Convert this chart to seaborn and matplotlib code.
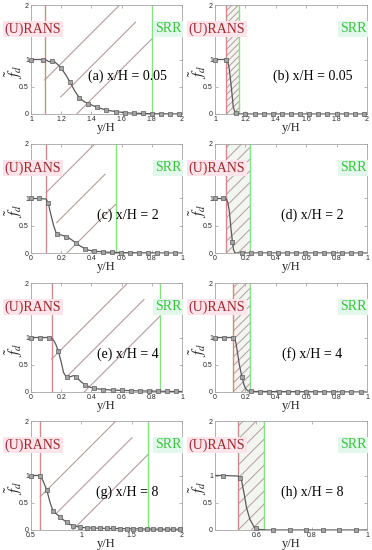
import numpy as np
import pandas as pd
import seaborn as sns
import matplotlib
matplotlib.use("Agg")
import matplotlib.pyplot as plt
from matplotlib.patches import Rectangle

sns.set_theme(style="white")
plt.rcParams["font.family"] = ["Liberation Serif", "DejaVu Serif"]
plt.rcParams["mathtext.fontset"] = "stix"

# ---------------- data ----------------
panel_labels = ["(a) x/H = 0.05", "(b) x/H = 0.05", "(c) x/H = 2", "(d) x/H = 2",
                "(e) x/H = 4", "(f) x/H = 4", "(g) x/H = 8", "(h) x/H = 8"]
x_limits = [(1, 2), (1, 2), (0, 1), (0, 1), (0, 1), (0, 1), (0.5, 2), (0.45, 1)]
rans_pos = [1.09, 1.075, 0.1, 0.074, 0.136, 0.118, 0.59, 0.534]
srr_pos = [1.8, 1.16, 0.56, 0.228, 0.857, 0.232, 1.666, 0.628]

ticks_12 = [1, 1.2, 1.4, 1.6, 1.8, 2]
labels_12 = ["1", "1.2", "1.4", "1.6", "1.8", "2"]
ticks_01 = [0, 0.2, 0.4, 0.6, 0.8, 1]
labels_01 = ["0", "0.2", "0.4", "0.6", "0.8", "1"]
ticks_g = [0.5, 1, 1.5, 2]
labels_g = ["0.5", "1", "1.5", "2"]
ticks_h = [0.6, 0.8, 1]
labels_h = ["0.6", "0.8", "1"]
y_ticks = [0, 0.5, 1, 1.5, 2]
y_tick_labels = ["0", "0.5", "1", "1.5", "2"]

a_cx = [1.0, 1.08, 1.1, 1.12, 1.14, 1.16, 1.18, 1.2, 1.23, 1.26, 1.29, 1.32, 1.35, 1.38, 1.44, 1.5, 1.56, 1.62, 1.68, 1.74, 1.8, 1.86, 1.92, 1.98, 2.0]
a_cy = [1.0, 1.0, 0.99, 0.96, 0.97, 0.95, 0.9, 0.84, 0.72, 0.58, 0.42, 0.3, 0.23, 0.19, 0.12, 0.07, 0.045, 0.025, 0.015, 0.01, 0.005, 0.003, 0.002, 0.001, 0.0]
a_mx = [1.0, 1.08, 1.14, 1.2, 1.26, 1.32, 1.38, 1.44, 1.5, 1.56, 1.62, 1.68, 1.74, 1.8, 1.86, 1.92, 1.98]
a_my = [1.0, 1.0, 0.97, 0.84, 0.58, 0.3, 0.19, 0.12, 0.07, 0.045, 0.025, 0.015, 0.01, 0.005, 0.003, 0.002, 0.001]

b_cx = [1.0, 1.075, 1.085, 1.092, 1.1, 1.107, 1.115, 1.12, 1.13, 1.14, 1.16, 1.2, 2.0]
b_cy = [1.0, 1.0, 0.95, 0.86, 0.68, 0.5, 0.28, 0.13, 0.05, 0.01, 0.0, 0.0, 0.0]
b_mx = [1.0, 1.075, 1.14, 1.2, 1.26, 1.32, 1.38, 1.44, 1.5, 1.56, 1.62, 1.68, 1.74, 1.8, 1.86, 1.92, 1.98]
b_my = [1.0, 1.0, 0.01, 0, 0, 0, 0, 0, 0, 0, 0, 0, 0, 0, 0, 0, 0]

c_cx = [0, 0.055, 0.1, 0.115, 0.13, 0.15, 0.165, 0.175, 0.2, 0.235, 0.265, 0.295, 0.325, 0.355, 0.385, 0.415, 0.475, 0.535, 0.595, 0.655, 0.715, 0.775, 0.835, 0.895, 0.955, 1.0]
c_cy = [1.0, 1.0, 0.99, 0.91, 0.72, 0.5, 0.38, 0.35, 0.33, 0.3, 0.25, 0.19, 0.13, 0.08, 0.05, 0.035, 0.02, 0.012, 0.008, 0.005, 0.003, 0.002, 0.001, 0, 0, 0]
c_mx = [0, 0.055, 0.115, 0.175, 0.235, 0.295, 0.355, 0.415, 0.475, 0.535, 0.595, 0.655, 0.715, 0.775, 0.835, 0.895, 0.955]
c_my = [1.0, 1.0, 0.91, 0.35, 0.3, 0.19, 0.08, 0.035, 0.02, 0.012, 0.008, 0.005, 0.003, 0.002, 0.001, 0, 0]

d_cx = [0, 0.055, 0.075, 0.085, 0.095, 0.105, 0.115, 0.122, 0.13, 0.14, 0.175, 1.0]
d_cy = [1.0, 1.0, 0.99, 0.92, 0.75, 0.45, 0.2, 0.06, 0.01, 0.0, 0.0, 0.0]
d_mx = [0, 0.055, 0.115, 0.175, 0.235, 0.295, 0.355, 0.415, 0.475, 0.535, 0.595, 0.655, 0.715, 0.775, 0.835, 0.895, 0.955]
d_my = [1.0, 1.0, 0.2, 0, 0, 0, 0, 0, 0, 0, 0, 0, 0, 0, 0, 0, 0]

e_cx = [0, 0.06, 0.12, 0.135, 0.15, 0.165, 0.18, 0.2, 0.215, 0.235, 0.26, 0.28, 0.3, 0.33, 0.36, 0.39, 0.42, 0.48, 0.54, 0.6, 0.66, 0.72, 0.78, 0.84, 0.9, 0.96, 1.0]
e_cy = [1, 1, 1, 0.99, 0.95, 0.87, 0.76, 0.55, 0.36, 0.27, 0.28, 0.3, 0.28, 0.19, 0.13, 0.09, 0.065, 0.045, 0.035, 0.03, 0.025, 0.02, 0.018, 0.015, 0.012, 0.01, 0.01]
e_mx = [0, 0.06, 0.12, 0.18, 0.24, 0.3, 0.36, 0.42, 0.48, 0.54, 0.6, 0.66, 0.72, 0.78, 0.84, 0.9, 0.96]
e_my = [1, 1, 1, 0.76, 0.27, 0.28, 0.13, 0.065, 0.045, 0.035, 0.03, 0.025, 0.02, 0.018, 0.015, 0.012, 0.01]

f_cx = [0, 0.06, 0.118, 0.128, 0.138, 0.148, 0.16, 0.17, 0.178, 0.19, 0.2, 0.215, 0.235, 1.0]
f_cy = [1, 1, 1, 0.98, 0.9, 0.72, 0.5, 0.37, 0.27, 0.14, 0.07, 0.025, 0.01, 0.0]
f_mx = [0, 0.06, 0.118, 0.178, 0.238, 0.298, 0.358, 0.418, 0.478, 0.538, 0.598, 0.658, 0.718, 0.778, 0.838, 0.898, 0.958]
f_my = [1, 1, 1, 0.27, 0.01, 0, 0, 0, 0, 0, 0, 0, 0, 0, 0, 0, 0]

g_cx = [0.5, 0.59, 0.62, 0.656, 0.69, 0.72, 0.755, 0.79, 0.82, 0.854, 0.89, 0.92, 0.987, 1.053, 1.12, 1.25, 1.4, 1.6, 1.8, 2.0]
g_cy = [1.0, 1.0, 0.9, 0.74, 0.5, 0.34, 0.29, 0.24, 0.19, 0.14, 0.1, 0.08, 0.05, 0.04, 0.035, 0.03, 0.025, 0.02, 0.015, 0.015]
g_mx = [0.5, 0.59, 0.656, 0.722, 0.788, 0.854, 0.92, 0.987, 1.053, 1.119, 1.186, 1.252, 1.318, 1.385, 1.451, 1.517, 1.584, 1.65, 1.716, 1.783, 1.849, 1.915, 1.982]
g_my = [1.0, 1.0, 0.74, 0.34, 0.24, 0.14, 0.08, 0.05, 0.04, 0.035, 0.032, 0.03, 0.028, 0.026, 0.024, 0.022, 0.02, 0.02, 0.018, 0.017, 0.016, 0.015, 0.015]

h_cx = [0.45, 0.48, 0.535, 0.545, 0.556, 0.564, 0.576, 0.592, 0.61, 0.64, 1.0]
h_cy = [1.0, 1.0, 0.99, 0.93, 0.65, 0.41, 0.2, 0.05, 0.01, 0.0, 0.0]
h_mx = [0.48, 0.54, 0.6, 0.66, 0.72, 0.78, 0.84, 0.9, 0.96]
h_my = [1.0, 0.96, 0.03, 0, 0, 0, 0, 0, 0]

curves = [(a_cx, a_cy, a_mx, a_my), (b_cx, b_cy, b_mx, b_my), (c_cx, c_cy, c_mx, c_my),
          (d_cx, d_cy, d_mx, d_my), (e_cx, e_cy, e_mx, e_my), (f_cx, f_cy, f_mx, f_my),
          (g_cx, g_cy, g_mx, g_my), (h_cx, h_cy, h_mx, h_my)]
x_tick_sets = [(ticks_12, labels_12), (ticks_12, labels_12), (ticks_01, labels_01), (ticks_01, labels_01),
               (ticks_01, labels_01), (ticks_01, labels_01), (ticks_g, labels_g), (ticks_h, labels_h)]

# ---------------- layout ----------------
FW, FH = 372, 550
fig = plt.figure(figsize=(FW / 100, FH / 100), dpi=100)
col_left = [31, 215]
col_w = [151, 152]
row_top = [5, 144, 283, 421]
ax_h = 109

RED = "#cf8a8a"
GREEN = "#86e086"
HATCH = "#b59c9c"

for i in range(8):
    r, c = divmod(i, 2)
    wpx, hpx = col_w[c], ax_h
    ax = fig.add_axes([col_left[c] / FW, 1 - (row_top[r] + ax_h) / FH, wpx / FW, hpx / FH])
    xmin, xmax = x_limits[i]
    ax.set_xlim(xmin, xmax)
    ax.set_ylim(0, 2)

    x0, x1 = rans_pos[i], srr_pos[i]
    u0 = (x0 - xmin) / (xmax - xmin)
    u1 = (x1 - xmin) / (xmax - xmin)
    band_px = (u1 - u0) * wpx
    clip = Rectangle((u0, 0), u1 - u0, 1, transform=ax.transAxes)
    if c == 0:
        L = 0.7 * band_px
        p1 = ((u0, 1 - L / hpx), (u0 + L / wpx, 1))
        p3 = ((u1 - L / wpx, 0), (u1, L / hpx))
        p2 = (((p1[0][0] + p3[0][0]) / 2, (p1[0][1] + p3[0][1]) / 2),
              ((p1[1][0] + p3[1][0]) / 2, (p1[1][1] + p3[1][1]) / 2))
        for p in (p1, p2, p3):
            ax.plot([p[0][0], p[1][0]], [p[0][1], p[1][1]], transform=ax.transAxes,
                    color=HATCH, lw=0.8, zorder=1)
    else:
        ax.axvspan(x0, x1, color="#f3f5f1", lw=0, zorder=0)
        s = 0.5 * band_px
        yk = -band_px
        while yk < hpx + band_px:
            ln, = ax.plot([u0, u1], [yk / hpx, (yk + band_px) / hpx], transform=ax.transAxes,
                          color=HATCH, lw=0.7, zorder=1)
            ln.set_clip_path(clip)
            yk += s
    ax.axvline(x0, color=RED, lw=1.0, zorder=2)
    ax.axvline(x1, color=GREEN, lw=1.0, zorder=2)

    cx, cy, mx, my = curves[i]
    sns.lineplot(x=cx, y=cy, ax=ax, color="#5a5a5a", lw=0.9, sort=False, estimator=None, zorder=3)
    sns.scatterplot(x=mx, y=my, ax=ax, marker="s", s=5.5, color="#a4a4a4", edgecolor="#5c5c5c",
                    linewidth=0.5, zorder=4, clip_on=False)

    xt, xl = x_tick_sets[i]
    ax.set_xticks(xt)
    ax.set_xticklabels(xl, fontfamily="Liberation Sans", fontsize=5)
    ax.set_yticks(y_ticks)
    ax.set_yticklabels(y_tick_labels, fontfamily="Liberation Sans", fontsize=5)
    ax.tick_params(direction="in", length=2, width=0.5, color="#999999", pad=1.5,
                   top=True, right=True, bottom=True, left=True)
    for sp in ax.spines.values():
        sp.set_color("#a5a5a5")
        sp.set_linewidth(0.6)

    ax.set_xlabel("y/H", fontsize=9, labelpad=0)
    ax.xaxis.set_label_coords(0.5, -0.07)
    ax.set_ylabel(r"$\tilde{f}_d$", fontsize=11)
    ax.yaxis.set_label_coords(-0.04, 0.39)

    ax.text(-0.175, 0.78, "(U)RANS", transform=ax.transAxes, color="#9c2b2b", fontsize=10,
            ha="left", va="center", clip_on=False, zorder=6,
            bbox=dict(boxstyle="square,pad=0.12", fc="#fde3ea", ec="none"))
    ax.text(0.995, 0.78, "SRR", transform=ax.transAxes, color="#3cc43c", fontsize=10,
            ha="right", va="center", clip_on=False, zorder=6,
            bbox=dict(boxstyle="square,pad=0.12", fc="#e3f8ec", ec="none"))
    ax.text(0.64, 0.35, panel_labels[i], transform=ax.transAxes, color="black", fontsize=10,
            ha="center", va="center", zorder=6)

fig.savefig("out.png", dpi=100)
